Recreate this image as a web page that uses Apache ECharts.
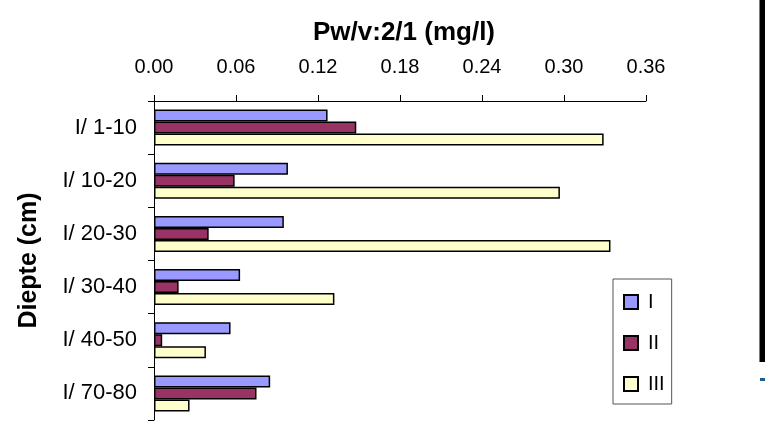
<!DOCTYPE html>
<html>
<head>
<meta charset="utf-8">
<script src="https://cdn.jsdelivr.net/npm/echarts@6/dist/echarts.min.js"></script>
<style>
  html, body { margin: 0; padding: 0; background: #fff; }
  #main { width: 765px; height: 421px; }
</style>
</head>
<body>
<div id="main"></div>
<script>
    var categories = ['I/ 1-10', 'I/ 10-20', 'I/ 20-30', 'I/ 30-40', 'I/ 40-50', 'I/ 70-80'];
    var seriesNames = ['I', 'II', 'III'];
    var valuesI = [0.127, 0.098, 0.095, 0.063, 0.056, 0.085];
    var valuesII = [0.148, 0.059, 0.040, 0.018, 0.006, 0.075];
    var valuesIII = [0.329, 0.297, 0.334, 0.132, 0.038, 0.026];
    var colors = ['#9999FF', '#993366', '#FFFFCC'];

    var font = '"Liberation Sans", Arial, sans-serif';
    var chart = echarts.init(document.getElementById('main'));

    function bar(name, data, color) {
        return {
            name: name,
            type: 'bar',
            data: data,
            barWidth: 12,
            barGap: 0,
            itemStyle: { color: color, borderColor: '#000', borderWidth: 1.5 }
        };
    }

    var option = {
        backgroundColor: '#fff',
        animation: false,
        title: {
            text: 'Pw/v:2/1 (mg/l)',
            left: 399,
            top: 15,
            textAlign: 'center',
            textStyle: { fontFamily: font, fontSize: 26, fontWeight: 'bold', color: '#000' }
        },
        legend: {
            orient: 'vertical',
            left: 613,
            top: 279,
            padding: [13, 7, 10, 10],
            itemWidth: 14,
            itemHeight: 14,
            itemGap: 21,
            icon: 'rect',
            borderColor: '#555',
            borderWidth: 1,
            data: seriesNames,
            textStyle: { fontFamily: font, fontSize: 20, color: '#000', padding: [0, 0, 0, 5] }
        },
        grid: { left: 154, right: 119, top: 101, bottom: 1 },
        xAxis: {
            type: 'value',
            position: 'top',
            min: 0,
            max: 0.36,
            interval: 0.06,
            axisLine: { show: true, lineStyle: { color: '#000', width: 1 } },
            axisTick: { show: true, length: 6, lineStyle: { color: '#000' } },
            splitLine: { show: false },
            axisLabel: {
                margin: 24,
                fontFamily: font,
                fontSize: 20,
                color: '#000',
                formatter: function (v) { return v.toFixed(2); }
            }
        },
        yAxis: {
            type: 'category',
            inverse: true,
            data: categories,
            name: 'Diepte (cm)',
            nameLocation: 'middle',
            nameRotate: 90,
            nameGap: 112,
            nameTextStyle: { fontFamily: font, fontSize: 25, fontWeight: 'bold', color: '#000' },
            axisLine: { show: true, lineStyle: { color: '#000', width: 1 } },
            axisTick: { show: true, length: 6, lineStyle: { color: '#000' } },
            axisLabel: { margin: 17, fontFamily: font, fontSize: 22, color: '#000' }
        },
        series: [
            bar(seriesNames[0], valuesI, colors[0]),
            bar(seriesNames[1], valuesII, colors[1]),
            bar(seriesNames[2], valuesIII, colors[2])
        ],
        graphic: [
            { type: 'rect', shape: { x: 760, y: 0, width: 5, height: 362 }, style: { fill: '#000' } },
            { type: 'rect', shape: { x: 759, y: 0, width: 1, height: 362 }, style: { fill: '#e05050' } },
            { type: 'rect', shape: { x: 760, y: 378, width: 5, height: 3 }, style: { fill: '#1f5f8f' } }
        ]
    };
    chart.setOption(option);
</script>
</body>
</html>
